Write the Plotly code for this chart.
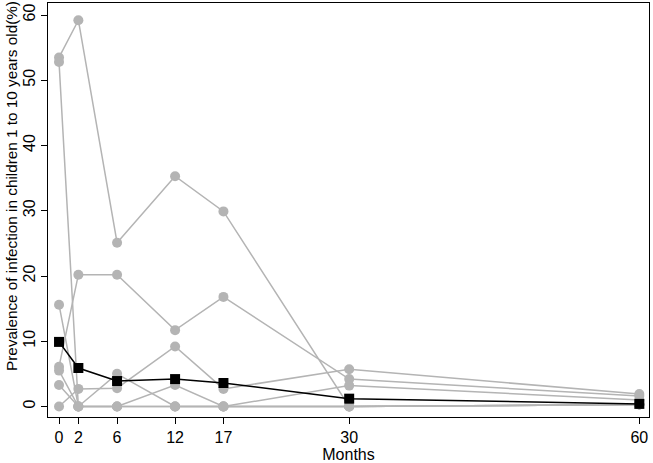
import plotly.graph_objects as go

months = [0, 2, 6, 12, 17, 30, 60]
tick_labels = ["0", "2", "6", "12", "17", "30", "60"]

study_a = [53.5, 59.2, 25.1, 35.3, 29.9, 0.0, 0.3]
study_b = [6.1, 20.2, 20.2, 11.7, 16.8, 4.2, 1.6]
study_c = [52.8, 0.0, 5.0, 0.0, 0.0, 3.2, 1.0]
study_d = [15.6, 0.0, 0.0, 3.3, 0.0, 0.0, 0.3]
study_e = [0.0, 2.7, 2.8, 9.2, 2.7, 5.7, 1.9]
study_f = [5.5, 0.0, 0.0, 0.0, 0.0, 0.0, 0.3]
study_g = [3.3, 0.0, 0.0, 0.0, 0.0, 0.0, 0.3]
pooled = [9.9, 5.9, 3.9, 4.2, 3.6, 1.2, 0.4]

studies = [study_a, study_b, study_c, study_d, study_e, study_f, study_g]

GRAY = "#b4b4b4"
FONT = "Liberation Sans, Arial, Helvetica, sans-serif"

fig = go.Figure()
for s in studies:
    fig.add_trace(go.Scatter(
        x=months, y=s, mode="lines+markers",
        line=dict(color=GRAY, width=1.5),
        marker=dict(color=GRAY, size=10, symbol="circle"),
        showlegend=False, hoverinfo="skip"))

fig.add_trace(go.Scatter(
    x=months, y=pooled, mode="lines+markers",
    line=dict(color="black", width=1.5),
    marker=dict(color="black", size=10, symbol="square"),
    showlegend=False))

fig.update_layout(
    width=653, height=463,
    margin=dict(l=48, r=4, t=3, b=46),
    paper_bgcolor="white", plot_bgcolor="white",
    font=dict(family=FONT, size=16, color="black"),
)
fig.update_xaxes(
    range=[-1.14, 61.0],
    tickmode="array", tickvals=months, ticktext=tick_labels,
    showgrid=False, zeroline=False,
    showline=True, linecolor="black", linewidth=1, mirror=True,
    ticks="outside", ticklen=6, tickcolor="black", tickwidth=1,
    tickfont=dict(size=16),
    title=dict(text="Months", font=dict(size=16), standoff=2),
)
fig.update_yaxes(
    range=[-1.61, 61.84],
    tickmode="array", tickvals=[0, 10, 20, 30, 40, 50, 60],
    showgrid=False, zeroline=False,
    showline=True, linecolor="black", linewidth=1, mirror=True,
    ticks="outside", ticklen=6, tickcolor="black", tickwidth=1,
    tickangle=-90, tickfont=dict(size=16),
)
fig.add_annotation(
    text="Prevalence of infection in children 1 to 10 years old(%)",
    xref="paper", yref="paper", x=-0.06, y=0.558,
    xanchor="center", yanchor="middle", textangle=-90,
    showarrow=False, font=dict(size=15.3, family=FONT, color="black"),
)

fig.write_html("out.html", config={"displayModeBar": False},
               post_script="document.body.style.margin='0';document.body.style.overflow='hidden';")
